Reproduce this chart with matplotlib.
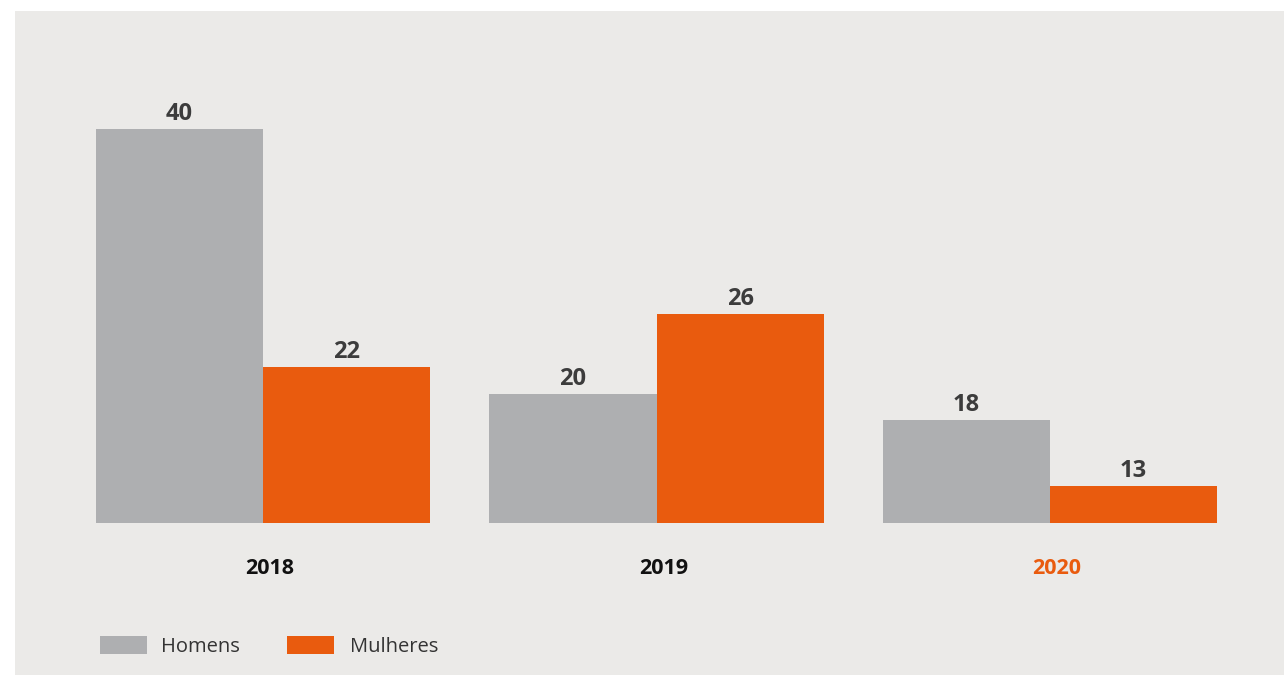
import matplotlib
matplotlib.use("Agg")
import matplotlib.pyplot as plt
import matplotlib.transforms as mtransforms
from matplotlib.patches import Rectangle
import numpy as np

years = ["2018", "2019", "2020"]
homens = [40, 20, 18]
mulheres = [22, 26, 13]
series_names = ["Homens", "Mulheres"]

GREY = "#aeafb1"
ORANGE = "#e95b0e"
BG = "#ebeae8"
LABEL = "#3c3c3c"

plt.rcParams["font.family"] = ["Open Sans", "DejaVu Sans"]

W, H = 1284, 675
fig = plt.figure(figsize=(W / 100, H / 100), dpi=100, facecolor="white")

# grey panel behind the chart
fig.patches.append(Rectangle((15 / W, 0), 1 - 15 / W, 1 - 11 / H,
                             transform=fig.transFigure, facecolor=BG,
                             edgecolor="none", zorder=-10))

ax = fig.add_axes([96 / W, 1 - 523 / H, 1121 / W, 473 / H])
ax.set_facecolor("none")

x = np.arange(len(years))
width = 0.425
b1 = ax.bar(x - width / 2, homens, width, color=GREY, label=series_names[0])
b2 = ax.bar(x + width / 2, mulheres, width, color=ORANGE, label=series_names[1])

for bars, vals in ((b1, homens), (b2, mulheres)):
    for rect, v in zip(bars, vals):
        ax.annotate(f"{v}", xy=(rect.get_x() + rect.get_width() / 2, v),
                    xytext=(0, 2), textcoords="offset points",
                    ha="center", va="bottom", fontsize=17,
                    fontweight="bold", color=LABEL)

ax.set_xlim(-0.425, 2.425)
ax.set_ylim(10.2, 46.0)
ax.set_yticks([])
ax.set_xticks(x)
ax.set_xticklabels(years, fontsize=15.5, fontweight="bold")
ax.tick_params(axis="x", length=0, pad=25)
shift = mtransforms.ScaledTranslation(7 / 100, 0, fig.dpi_scale_trans)
for lbl in ax.get_xticklabels():
    lbl.set_color("#111111")
    lbl.set_transform(lbl.get_transform() + shift)
ax.get_xticklabels()[-1].set_color(ORANGE)
for s in ax.spines.values():
    s.set_visible(False)

# legend drawn by hand at the bottom left
for px, color, name, tx in ((100, GREY, series_names[0], 161),
                            (287, ORANGE, series_names[1], 350)):
    fig.patches.append(Rectangle((px / W, 1 - 654 / H), 47 / W, 18 / H,
                                 transform=fig.transFigure, facecolor=color,
                                 edgecolor="none"))
    fig.text(tx / W, 1 - 647 / H, name, fontsize=14.5, color="#333333",
             ha="left", va="center")

fig.savefig("out.png", dpi=100, facecolor=fig.get_facecolor())
